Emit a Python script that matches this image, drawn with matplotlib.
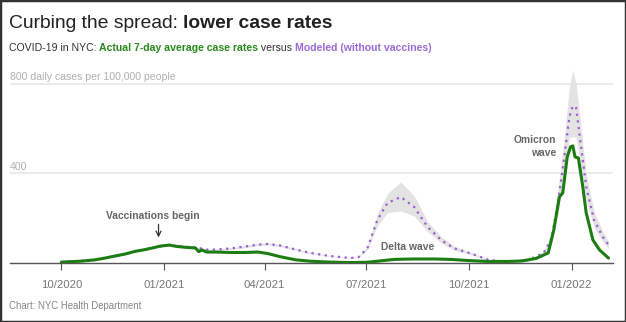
import matplotlib
matplotlib.use("Agg")
import matplotlib.pyplot as plt
import pandas as pd
from matplotlib.patches import Rectangle

plt.rcParams["font.family"] = ["Liberation Sans", "DejaVu Sans"]

# actual 7-day average case rate (per 100k)
actual_dates = ["2020-10-01", "2020-10-18", "2020-10-31", "2020-11-09", "2020-11-18",
                "2020-11-27", "2020-12-06", "2020-12-15", "2020-12-24", "2020-12-29",
                "2021-01-06", "2021-01-11", "2021-01-20", "2021-01-29", "2021-02-01",
                "2021-02-04", "2021-02-08", "2021-02-16", "2021-03-02", "2021-03-15",
                "2021-03-26", "2021-04-04", "2021-04-15", "2021-04-29", "2021-05-12",
                "2021-05-30", "2021-06-17", "2021-07-01", "2021-07-11", "2021-07-26",
                "2021-08-12", "2021-08-31", "2021-09-15", "2021-09-30", "2021-10-18",
                "2021-11-05", "2021-11-17", "2021-11-30", "2021-12-11", "2021-12-16",
                "2021-12-21", "2021-12-24", "2021-12-28", "2021-12-31", "2022-01-02",
                "2022-01-04", "2022-01-07", "2022-01-11", "2022-01-14", "2022-01-20",
                "2022-01-26", "2022-02-03"]
actual_vals = [4, 8, 14, 22, 31,
               40, 52, 60, 70, 76,
               80, 75, 70, 67, 51,
               58, 49, 49, 47, 47,
               49, 42, 28, 14, 8,
               4, 2, 3, 8, 16,
               18, 18, 16, 11, 7,
               7, 9, 20, 45, 148,
               295, 313, 474, 519, 523,
               474, 469, 340, 224, 103,
               58, 22]

# modeled (without vaccines) and its uncertainty band
model_dates = ["2020-10-01", "2020-10-31", "2020-11-27", "2020-12-24", "2021-01-06",
               "2021-01-11", "2021-01-20", "2021-01-29", "2021-02-08", "2021-02-16",
               "2021-03-02", "2021-03-15", "2021-03-26", "2021-04-04", "2021-04-15",
               "2021-04-29", "2021-05-12", "2021-05-30", "2021-06-17", "2021-06-24",
               "2021-07-02", "2021-07-11", "2021-07-20", "2021-08-01", "2021-08-13",
               "2021-08-25", "2021-09-06", "2021-09-18", "2021-10-03", "2021-10-18",
               "2021-11-05", "2021-11-23", "2021-12-07", "2021-12-14", "2021-12-20",
               "2021-12-25", "2021-12-30", "2022-01-02", "2022-01-05", "2022-01-09",
               "2022-01-14", "2022-01-21", "2022-01-29", "2022-02-03"]
model_vals = [4, 14, 40, 70, 80,
              77, 73, 70, 60, 60,
              65, 74, 82, 85, 78,
              60, 45, 31, 22, 26,
              65, 192, 268, 295, 250,
              161, 103, 65, 42, 15,
              4, 13, 45, 110, 280,
              460, 653, 702, 693, 536,
              340, 192, 116, 80]
band_lo = [4, 14, 40, 70, 80,
           76, 71, 67, 57, 57,
           61, 69, 77, 80, 73,
           56, 42, 29, 21, 24,
           58, 165, 225, 232, 210,
           140, 90, 57, 37, 13,
           3, 11, 40, 90, 230,
           390, 560, 565, 560, 440,
           280, 160, 95, 65]
band_hi = [4, 14, 40, 70, 80,
           78, 75, 73, 63, 63,
           69, 79, 88, 91, 83,
           64, 48, 33, 23, 28,
           75, 220, 310, 362, 300,
           185, 118, 75, 48, 17,
           5, 15, 52, 135, 340,
           540, 790, 863, 800, 620,
           400, 230, 140, 95]

xtick_dates = ["2020-10-01", "2021-01-01", "2021-04-01", "2021-07-01", "2021-10-01", "2022-01-01"]
xtick_labels = ["10/2020", "01/2021", "04/2021", "07/2021", "10/2021", "01/2022"]
ygrid = [400, 800]

GREEN = "#1c7d12"
PURPLE = "#9a5fd2"
GRAY = "#777777"

ad = pd.to_datetime(actual_dates)
md = pd.to_datetime(model_dates)

fig = plt.figure(figsize=(6.26, 3.22), dpi=100)
ax = fig.add_axes([10 / 626, 59 / 322, 603 / 626, 197 / 322])

for g in ygrid:
    ax.axhline(g, color="#e8e8e8", lw=1.2, zorder=0)
ax.text(0, 800 + 8, "800 daily cases per 100,000 people", transform=ax.get_yaxis_transform(),
        color="#b0b0b0", fontsize=7.6, va="bottom", ha="left")
ax.text(0, 400 + 8, "400", transform=ax.get_yaxis_transform(),
        color="#b0b0b0", fontsize=7.6, va="bottom", ha="left")

ax.fill_between(md, band_lo, band_hi, color="#e3e3e3", lw=0, zorder=1)
ax.plot(md, model_vals, color=PURPLE, lw=1.6, ls=(0, (1, 2)), zorder=2)
ax.plot(ad, actual_vals, color=GREEN, lw=2.2, zorder=3, solid_capstyle="round")

ax.set_xlim(pd.Timestamp("2020-08-16"), pd.Timestamp("2022-02-07"))
ax.set_ylim(0, 880)
for s in ["top", "right", "left"]:
    ax.spines[s].set_visible(False)
ax.spines["bottom"].set_color("#555555")
ax.spines["bottom"].set_linewidth(1.0)
ax.set_yticks([])
ax.set_xticks(pd.to_datetime(xtick_dates))
ax.set_xticklabels(xtick_labels)
ax.tick_params(axis="x", length=5, color="#555555", labelcolor=GRAY, labelsize=8.2, pad=7)

# annotations
ax.text(pd.Timestamp("2020-12-22"), 211, "Vaccinations begin", ha="center", va="center",
        color="#666666", fontsize=7.4, fontweight="bold")
ax.annotate("", xy=(pd.Timestamp("2020-12-27"), 114), xytext=(pd.Timestamp("2020-12-27"), 172),
            arrowprops=dict(arrowstyle="->", color="#333333", lw=0.9, mutation_scale=9,
                            shrinkA=0, shrinkB=0))
ax.text(pd.Timestamp("2021-07-14"), 72, "Delta wave", ha="left", va="center",
        color="#666666", fontsize=7.4, fontweight="bold")
ax.text(pd.Timestamp("2021-12-18"), 522, "Omicron\nwave", ha="right", va="center",
        color="#666666", fontsize=7.4, fontweight="bold", linespacing=1.35)

# title and subtitle built from pieces
fig.canvas.draw()
r = fig.canvas.get_renderer()


def seq(parts, x, y, size):
    for txt, color, weight in parts:
        t = fig.text(x / 626, 1 - y / 322, txt, color=color, fontsize=size,
                     fontweight=weight, va="baseline", ha="left")
        bb = t.get_window_extent(renderer=r)
        x += bb.width


seq([("Curbing the spread: ", "#222222", "normal"),
     ("lower case rates", "#222222", "bold")], 9, 28, 13.9)
seq([("COVID-19 in NYC: ", "#333333", "normal"),
     ("Actual 7-day average case rates", "#2a8a1e", "bold"),
     (" versus ", "#333333", "normal"),
     ("Modeled (without vaccines)", "#9b6ad6", "bold")], 9, 51, 7.6)

fig.text(9 / 626, 1 - 309 / 322, "Chart: NYC Health Department", color="#888888",
         fontsize=6.9, va="baseline", ha="left")

fig.patches.append(Rectangle((0, 0), 1, 1, transform=fig.transFigure, fill=False,
                             edgecolor="#333333", lw=2.5))

fig.savefig("out.png", dpi=100)
